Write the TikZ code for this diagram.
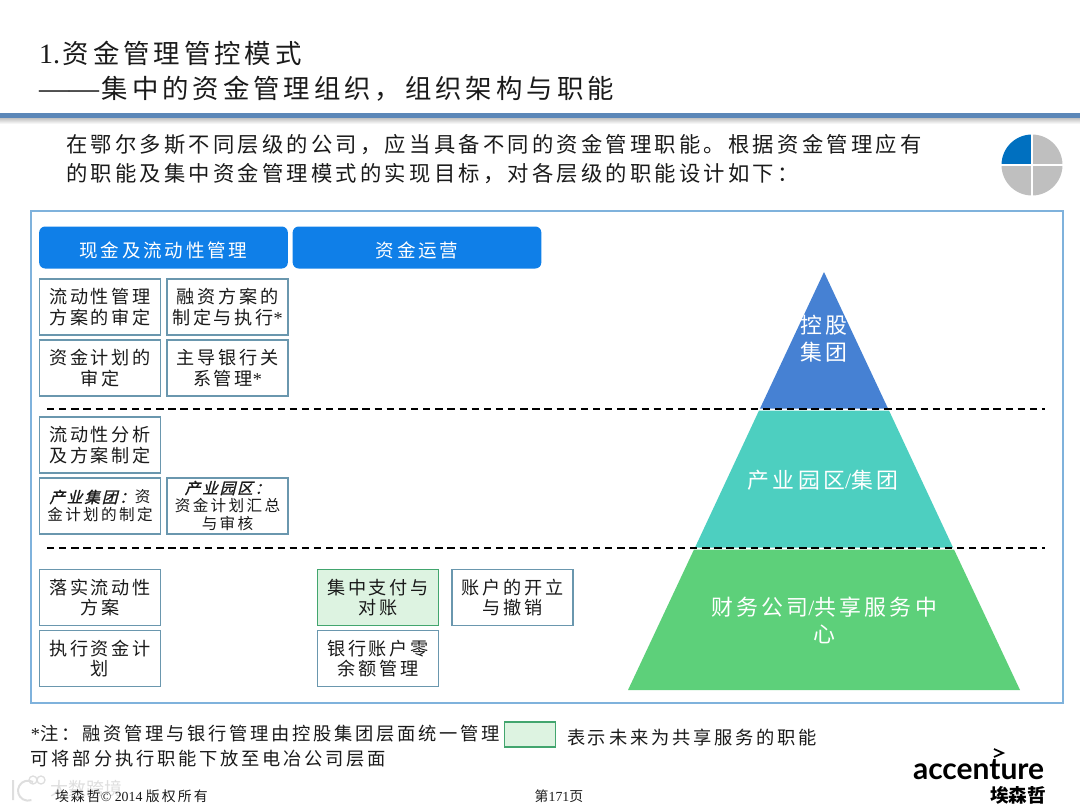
\documentclass[tikz,border=0pt]{standalone}
\usepackage{fontspec}
\setmainfont{Noto Sans CJK SC}
\newfontfamily\cjks[LetterSpace=15]{Noto Sans CJK SC}
\newfontfamily\cjkbi[LetterSpace=12,FakeSlant=0.25,FakeBold=1.2]{Noto Sans CJK SC}
\newfontfamily\ser{Liberation Serif}
\newfontfamily\logofont{Lato}
\definecolor{framec}{HTML}{7FB2DC}
\definecolor{rulec}{HTML}{5B87B8}
\definecolor{boxc}{HTML}{6A97AE}
\definecolor{tabc}{HTML}{0F7FE8}
\definecolor{inkc}{HTML}{1A1A1A}
\definecolor{pyrA}{HTML}{4681D3}
\definecolor{pyrB}{HTML}{4DCFC0}
\definecolor{pyrC}{HTML}{5DD07A}
\definecolor{greenf}{HTML}{DDF3E1}
\definecolor{greend}{HTML}{42A56E}
\definecolor{pieblue}{HTML}{0070C0}
\definecolor{piegray}{HTML}{BFBFBF}
\tikzset{
  txt/.style={inner sep=0pt,outer sep=0pt,text=inkc,align=center},
  titletxt/.style={txt,anchor=west,font=\cjks\fontsize{19.8}{26}\selectfont},
  introtxt/.style={txt,anchor=west,font=\cjks\fontsize{16}{21}\selectfont},
  notetxt/.style={txt,anchor=west,font=\cjks\fontsize{13.7}{18}\selectfont},
  footxt/.style={txt,font=\ser\fontsize{10.4}{12}\selectfont},
  tabbox/.style={fill=tabc,rounded corners=4.5pt,text=white,inner sep=0pt,align=center,
    font=\cjks\fontsize{13.9}{16}\selectfont,minimum width=186.5pt,minimum height=31.5pt},
  itembox/.style={draw=boxc,line width=1.1pt,fill=white,text=inkc,inner sep=0pt,align=center,
    font=\cjks\fontsize{13.6}{15.3}\selectfont,minimum width=91pt,minimum height=42pt},
  greenbox/.style={itembox,draw=greend,fill=greenf},
  smallbox/.style={itembox,font=\cjks\fontsize{11.7}{13.5}\selectfont},
  pyrtxt/.style={inner sep=0pt,text=white,align=center,font=\cjks\fontsize{16.4}{20.5}\selectfont},
  tierline/.style={black,line width=0.85pt,dash pattern=on 5.5pt off 3.6pt}
}
\begin{document}
\begin{tikzpicture}[x=0.75pt,y=-0.75pt]
\useasboundingbox (0,0) rectangle (1080,810);
% header
\node[titletxt] (t1) at (39,53) {{\ser\fontsize{21}{26}\selectfont 1.}\hspace{2pt}资金管理管控模式};
\node[titletxt] (t2) at (39,89) {{\ser\fontsize{22.5}{26}\selectfont ——}\hspace{2pt}集中的资金管理组织，组织架构与职能};
\shade[top color=black!28,bottom color=white] (0,117) rectangle (1080,124);
\fill[rulec] (0,113) rectangle (1080,117.5);
\node[introtxt] (i1) at (66,145) {在鄂尔多斯不同层级的公司，应当具备不同的资金管理职能。根据资金管理应有};
\node[introtxt] (i2) at (66,174) {的职能及集中资金管理模式的实现目标，对各层级的职能设计如下：};
% pie
\fill[pieblue] (1032,165) -- (1001.5,165) arc[start angle=180,end angle=270,radius=30.5] -- cycle;
\fill[piegray] (1032,165) -- (1032,134.5) arc[start angle=270,end angle=360,radius=30.5] -- cycle;
\fill[piegray] (1032,165) -- (1062.5,165) arc[start angle=0,end angle=90,radius=30.5] -- cycle;
\fill[piegray] (1032,165) -- (1032,195.5) arc[start angle=90,end angle=180,radius=30.5] -- cycle;
\draw[white,line width=2.2pt] (1032,132) -- (1032,198) (999,165) -- (1065,165);
% frame
\draw[framec,line width=1.9pt] (31,211) rectangle (1063,703);
% pyramid
\fill[pyrA] (824,272) -- (888,408.5) -- (760,408.5) -- cycle;
\fill[pyrB] (759,410.5) -- (889,410.5) -- (953,547.5) -- (695,547.5) -- cycle;
\fill[pyrC] (694,549.5) -- (954,549.5) -- (1020,690) -- (628,690) -- cycle;
\coordinate (d1a) at (47,409); \coordinate (d1b) at (1045,409);
\coordinate (d2a) at (47,548); \coordinate (d2b) at (1045,548);
\draw[tierline] (d1a) -- (d1b);
\draw[tierline] (d2a) -- (d2b);
\node[pyrtxt] (p1) at (824,339) {控股\\集团};
\node[pyrtxt] (p2) at (823,480) {产业园区{\ser /}集团};
\node[pyrtxt] (p3) at (824,620.5) {财务公司{\ser /}共享服务中\\心};
% tabs
\node[tabbox] (tab1) at (163.5,247.5) {\raisebox{-2.2pt}[\height][\depth]{现金及流动性管理}};
\node[tabbox] (tab2) at (417,247.5) {\raisebox{-2.2pt}[\height][\depth]{资金运营}};
% boxes
\node[itembox] (b11) at (100,307) {流动性管理\\方案的审定};
\node[itembox] (b12) at (227.5,307) {融资方案的\\制定与执行{\ser *}};
\node[itembox] (b21) at (100,368) {资金计划的\\审定};
\node[itembox] (b22) at (227.5,368) {主导银行关\\系管理{\ser *}};
\node[itembox] (b31) at (100,445) {流动性分析\\及方案制定};
\node[smallbox] (b41) at (100,506) {{\cjkbi 产业集团：}资\\金计划的制定};
\node[smallbox] (b42) at (227.5,506) {{\cjkbi 产业园区：}\\资金计划汇总\\与审核};
\node[itembox] (b51) at (100,597.5) {落实流动性\\方案};
\node[itembox] (b61) at (100,658.5) {执行资金计\\划};
\node[greenbox] (b52) at (378,597.5) {集中支付与\\对账};
\node[itembox] (b62) at (378,658.5) {银行账户零\\余额管理};
\node[itembox] (b53) at (512.5,597.5) {账户的开立\\与撤销};
% note
\node[notetxt] (n1) at (31,734) {{\ser *}注：融资管理与银行管理由控股集团层面统一管理};
\node[notetxt] (n2) at (31,759) {可将部分执行职能下放至电冶公司层面};
\node[draw=greend,line width=1.1pt,fill=greenf,minimum width=38pt,minimum height=18.5pt,inner sep=0pt] (leg) at (530,734.5) {};
\node[notetxt] (n3) at (567,737) {表示未来为共享服务的职能};
% footer
\node[txt,text=black!13,font=\fontsize{13.5}{16}\selectfont] (wm) at (86,789) {大数跨境};
\draw[black!13,line width=1.5pt] (13,780) -- (13,800) (33,782) arc[start angle=300,end angle=70,radius=10];
\draw[black!13,line width=1pt] (33,780) circle[radius=4] (41,780) circle[radius=4];
\node[footxt,anchor=west] (f1) at (55,796) {{\cjks 埃森哲}© 2014 {\cjks 版权所有}};
\node[footxt] (f2) at (559,796) {{\rmfamily 第}171{\rmfamily 页}};
% logo
\node[txt,anchor=base west,text=black,font=\logofont\bfseries\fontsize{22.5}{24}\selectfont] (logo) at (913,779) {accenture};
\coordinate (ca) at (994,749); \coordinate (cb) at (1003,753); \coordinate (cc) at (994,757);
\draw[black,line width=1.3pt] (ca) -- (cb) -- (cc);
\node[txt,anchor=west,text=black,font=\bfseries\fontsize{14}{16}\selectfont] (logoc) at (990,795) {埃森哲};
\end{tikzpicture}
\end{document}
